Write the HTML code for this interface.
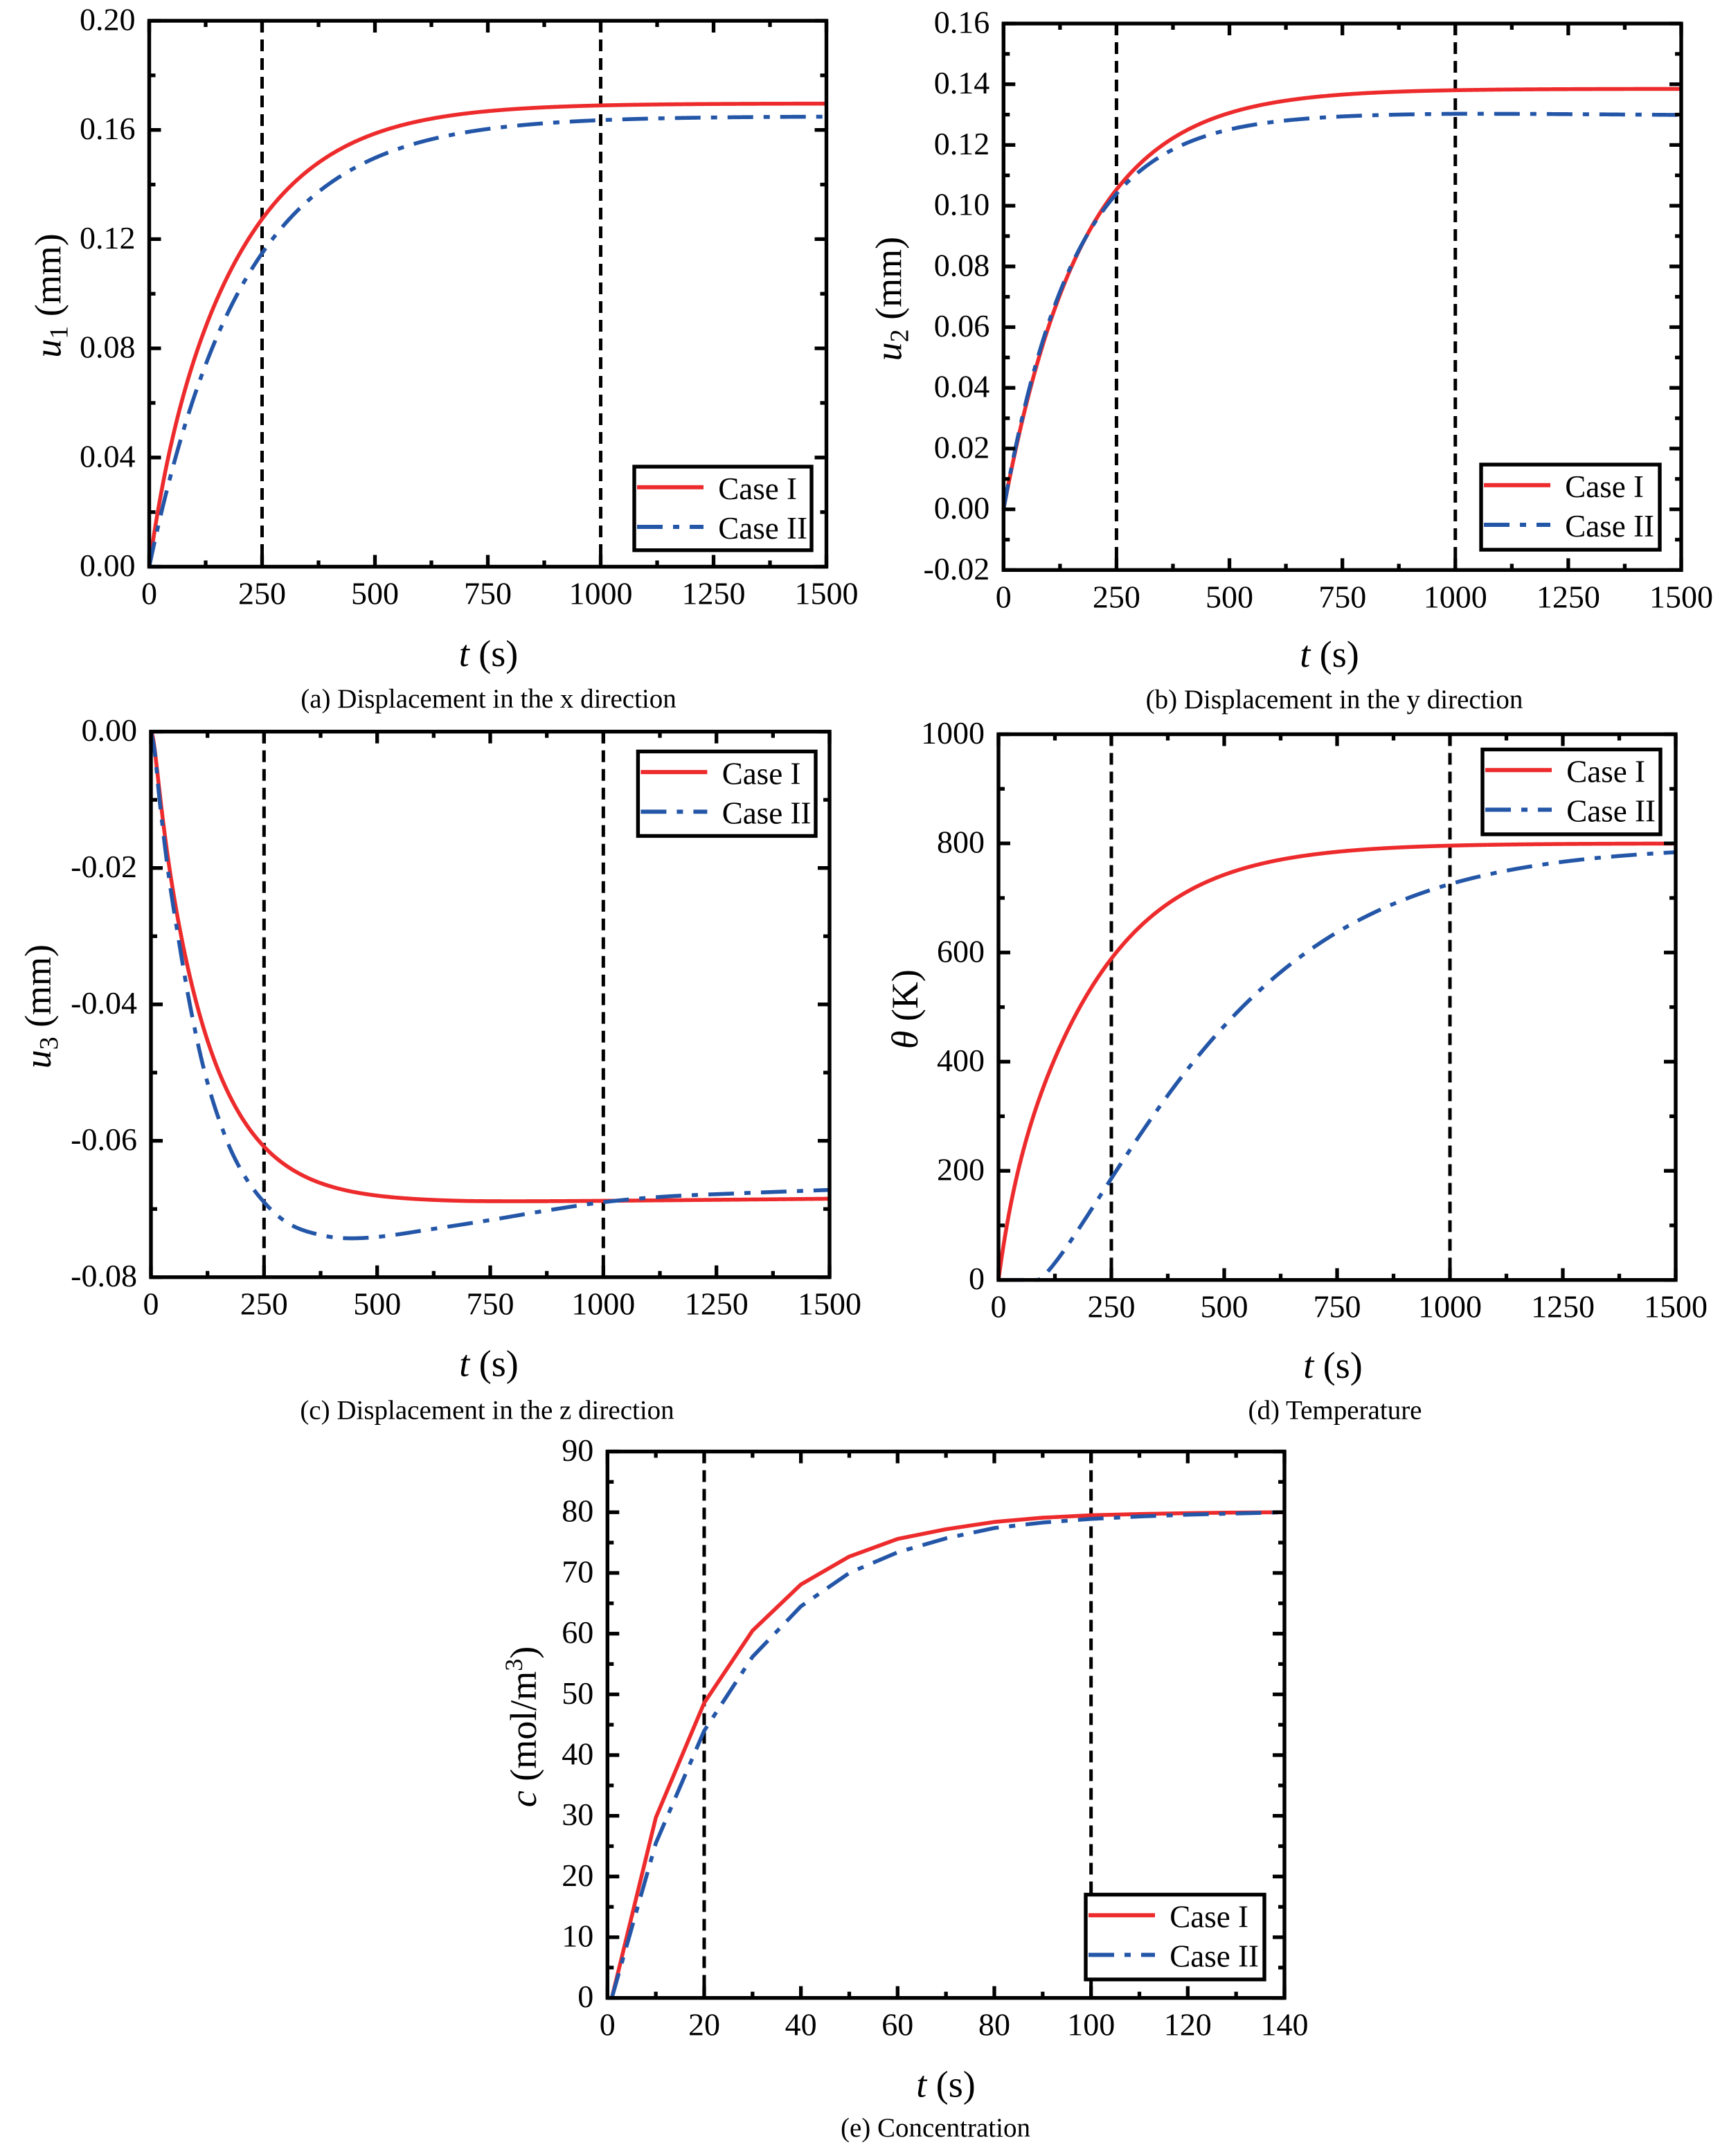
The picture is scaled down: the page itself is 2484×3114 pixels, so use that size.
<!DOCTYPE html>
<html>
<head>
<meta charset="utf-8">
<style>
html,body{margin:0;padding:0;background:#fff;}
svg{display:block;}
text{font-family:"Liberation Serif","Times New Roman",serif;fill:#000;}
</style>
</head>
<body>
<svg id="svg" xmlns="http://www.w3.org/2000/svg" width="2484" height="3114" viewBox="0 0 2484 3114">
<rect x="0" y="0" width="2484" height="3114" fill="#fff"/>
<g id="plots"></g>

<!-- ================= Panel (a) ================= -->
<g font-size="46" text-anchor="end">
<text x="195.5" y="832">0.00</text>
<text x="195.5" y="674.3">0.04</text>
<text x="195.5" y="516.6">0.08</text>
<text x="195.5" y="358.9">0.12</text>
<text x="195.5" y="201.2">0.16</text>
<text x="195.5" y="43.5">0.20</text>
</g>
<g font-size="46" text-anchor="middle">
<text x="215.5" y="872.5">0</text>
<text x="378.5" y="872.5">250</text>
<text x="541.5" y="872.5">500</text>
<text x="704.5" y="872.5">750</text>
<text x="867.5" y="872.5">1000</text>
<text x="1030.5" y="872.5">1250</text>
<text x="1193.5" y="872.5">1500</text>
</g>
<text x="705.5" y="962" text-anchor="middle" font-size="54"><tspan font-style="italic">t</tspan> (s)</text>
<text transform="translate(87.5,427) rotate(-90)" text-anchor="middle" font-size="54"><tspan font-style="italic">u</tspan><tspan font-size="38" dy="10">1</tspan><tspan dy="-10"> (mm)</tspan></text>
<text x="705.5" y="1022" text-anchor="middle" font-size="39">(a) Displacement in the x direction</text>
<g font-size="45">
<text x="1037.3" y="721">Case I</text>
<text x="1037.3" y="778">Case II</text>
</g>

<!-- ================= Panel (b) ================= -->
<g font-size="46" text-anchor="end">
<text x="1429.3" y="836.8">-0.02</text>
<text x="1429.3" y="749.1">0.00</text>
<text x="1429.3" y="661.4">0.02</text>
<text x="1429.3" y="573.7">0.04</text>
<text x="1429.3" y="486.0">0.06</text>
<text x="1429.3" y="398.3">0.08</text>
<text x="1429.3" y="310.6">0.10</text>
<text x="1429.3" y="222.9">0.12</text>
<text x="1429.3" y="135.2">0.14</text>
<text x="1429.3" y="47.5">0.16</text>
</g>
<g font-size="46" text-anchor="middle">
<text x="1449.3" y="877.3">0</text>
<text x="1612.4" y="877.3">250</text>
<text x="1775.5" y="877.3">500</text>
<text x="1938.7" y="877.3">750</text>
<text x="2101.8" y="877.3">1000</text>
<text x="2264.9" y="877.3">1250</text>
<text x="2428" y="877.3">1500</text>
</g>
<text x="1920" y="963" text-anchor="middle" font-size="54"><tspan font-style="italic">t</tspan> (s)</text>
<text transform="translate(1301.5,431.6) rotate(-90)" text-anchor="middle" font-size="54"><tspan font-style="italic">u</tspan><tspan font-size="38" dy="10">2</tspan><tspan dy="-10"> (mm)</tspan></text>
<text x="1927" y="1023" text-anchor="middle" font-size="39">(b) Displacement in the y direction</text>
<g font-size="45">
<text x="2260.3" y="718">Case I</text>
<text x="2260.3" y="775">Case II</text>
</g>

<!-- ================= Panel (c) ================= -->
<g font-size="46" text-anchor="end">
<text x="198" y="1070.2">0.00</text>
<text x="198" y="1267.2">-0.02</text>
<text x="198" y="1464.2">-0.04</text>
<text x="198" y="1661.2">-0.06</text>
<text x="198" y="1858.2">-0.08</text>
</g>
<g font-size="46" text-anchor="middle">
<text x="218" y="1898.7">0</text>
<text x="381.3" y="1898.7">250</text>
<text x="544.7" y="1898.7">500</text>
<text x="708" y="1898.7">750</text>
<text x="871.3" y="1898.7">1000</text>
<text x="1034.7" y="1898.7">1250</text>
<text x="1198" y="1898.7">1500</text>
</g>
<text x="706" y="1987.5" text-anchor="middle" font-size="54"><tspan font-style="italic">t</tspan> (s)</text>
<text transform="translate(73,1453.7) rotate(-90)" text-anchor="middle" font-size="54"><tspan font-style="italic">u</tspan><tspan font-size="38" dy="10">3</tspan><tspan dy="-10"> (mm)</tspan></text>
<text x="703.5" y="2049.3" text-anchor="middle" font-size="39">(c) Displacement in the z direction</text>
<g font-size="45">
<text x="1042.7" y="1132.4">Case I</text>
<text x="1042.7" y="1189.4">Case II</text>
</g>

<!-- ================= Panel (d) ================= -->
<g font-size="46" text-anchor="end">
<text x="1422" y="1862.2">0</text>
<text x="1422" y="1704.6">200</text>
<text x="1422" y="1546.9">400</text>
<text x="1422" y="1389.3">600</text>
<text x="1422" y="1231.6">800</text>
<text x="1422" y="1074">1000</text>
</g>
<g font-size="46" text-anchor="middle">
<text x="1442" y="1902.7">0</text>
<text x="1605" y="1902.7">250</text>
<text x="1768" y="1902.7">500</text>
<text x="1931" y="1902.7">750</text>
<text x="2094" y="1902.7">1000</text>
<text x="2257" y="1902.7">1250</text>
<text x="2420" y="1902.7">1500</text>
</g>
<text x="1925" y="1990" text-anchor="middle" font-size="54"><tspan font-style="italic">t</tspan> (s)</text>
<text transform="translate(1325,1457.6) rotate(-90)" text-anchor="middle" font-size="54"><tspan font-style="italic">θ</tspan> (K)</text>
<text x="1928" y="2049.3" text-anchor="middle" font-size="39">(d) Temperature</text>
<g font-size="45">
<text x="2262.3" y="1129.5">Case I</text>
<text x="2262.3" y="1186.5">Case II</text>
</g>

<!-- ================= Panel (e) ================= -->
<g font-size="46" text-anchor="end">
<text x="857.3" y="2899.2">0</text>
<text x="857.3" y="2811.5">10</text>
<text x="857.3" y="2723.8">20</text>
<text x="857.3" y="2636.1">30</text>
<text x="857.3" y="2548.4">40</text>
<text x="857.3" y="2460.8">50</text>
<text x="857.3" y="2373.1">60</text>
<text x="857.3" y="2285.4">70</text>
<text x="857.3" y="2197.7">80</text>
<text x="857.3" y="2110">90</text>
</g>
<g font-size="46" text-anchor="middle">
<text x="877.3" y="2939.7">0</text>
<text x="1017.0" y="2939.7">20</text>
<text x="1156.6" y="2939.7">40</text>
<text x="1296.3" y="2939.7">60</text>
<text x="1436.0" y="2939.7">80</text>
<text x="1575.7" y="2939.7">100</text>
<text x="1715.3" y="2939.7">120</text>
<text x="1855" y="2939.7">140</text>
</g>
<text x="1366" y="3028.5" text-anchor="middle" font-size="54"><tspan font-style="italic">t</tspan> (s)</text>
<text transform="translate(774,2494) rotate(-90)" text-anchor="middle" font-size="54"><tspan font-style="italic">c</tspan> (mol/m<tspan font-size="36" dy="-20">3</tspan><tspan dy="20">)</tspan></text>
<text x="1351" y="3086" text-anchor="middle" font-size="39">(e) Concentration</text>
<g font-size="45">
<text x="1689.3" y="2783.5">Case I</text>
<text x="1689.3" y="2840.5">Case II</text>
</g>
</svg>

<script>
(function(){
var NS='http://www.w3.org/2000/svg';
var g=document.getElementById('plots');
function el(tag,attrs){var e=document.createElementNS(NS,tag);for(var k in attrs)e.setAttribute(k,attrs[k]);g.appendChild(e);return e;}
var RED='#ED2B2C', BLUE='#2456A8';
var E=Math.exp;

function mono(pts){
  var n=pts.length,xs=[],ys=[],d=[],m=[];
  for(var i=0;i<n;i++){xs.push(pts[i][0]);ys.push(pts[i][1]);}
  for(i=0;i<n-1;i++)d.push((ys[i+1]-ys[i])/(xs[i+1]-xs[i]));
  m[0]=d[0];m[n-1]=d[n-2];
  for(i=1;i<n-1;i++){if(d[i-1]*d[i]<=0)m[i]=0;else m[i]=(d[i-1]+d[i])/2;}
  for(i=0;i<n-1;i++){
    if(d[i]===0){m[i]=0;m[i+1]=0;continue;}
    var a=m[i]/d[i],b=m[i+1]/d[i],s=a*a+b*b;
    if(s>9){var t=3/Math.sqrt(s);m[i]=t*a*d[i];m[i+1]=t*b*d[i];}
  }
  return function(x){
    var i=0;while(i<n-2&&x>xs[i+1])i++;
    var h=xs[i+1]-xs[i],t=(x-xs[i])/h,t2=t*t,t3=t2*t;
    return (2*t3-3*t2+1)*ys[i]+(t3-2*t2+t)*h*m[i]+(-2*t3+3*t2)*ys[i+1]+(t3-t2)*h*m[i+1];
  };
}

function panel(P){
  var sx=function(t){return P.L+(t-P.x0)/(P.x1-P.x0)*(P.R-P.L);};
  var sy=function(v){return P.B-(v-P.y0)/(P.y1-P.y0)*(P.B-P.T);};
  P.vl.forEach(function(t){
    el('line',{x1:sx(t),y1:P.T,x2:sx(t),y2:P.B,stroke:'#000','stroke-width':5,'stroke-dasharray':'17 10'});
  });
  function curve(data,color,dash){
    var pts=[];
    if(data.poly){
      data.pts.forEach(function(p){pts.push(sx(p[0]).toFixed(2)+','+sy(p[1]).toFixed(2));});
    } else {
      var f=data.fn||mono(data.pts);
      var a=data.start||P.x0, b=P.x1, N=800;
      for(var k=0;k<=N;k++){var t=a+(b-a)*k/N;pts.push(sx(t).toFixed(2)+','+sy(f(t)).toFixed(2));}
    }
    var at={d:'M'+pts.join('L'),fill:'none',stroke:color,'stroke-width':5.6,'stroke-linejoin':'round'};
    if(dash)at['stroke-dasharray']=dash;
    el('path',at);
  }
  curve(P.red,RED,null);
  curve(P.blue,BLUE,'37 15 9 15');
  var l=P.leg;
  el('rect',{x:l[0],y:l[1],width:l[2]-l[0],height:l[3]-l[1],fill:'#fff',stroke:'#000','stroke-width':5.4});
  el('line',{x1:l[0]+4,y1:l[1]+29.7,x2:l[0]+100,y2:l[1]+29.7,stroke:RED,'stroke-width':6});
  el('line',{x1:l[0]+4,y1:l[1]+87,x2:l[0]+100,y2:l[1]+87,stroke:BLUE,'stroke-width':6,'stroke-dasharray':'37 15 9 15'});
  el('rect',{x:P.L,y:P.T,width:P.R-P.L,height:P.B-P.T,fill:'none',stroke:'#000','stroke-width':5.4});
  var tw=5.3, MJ=17, MN=9;
  var nx=Math.round((P.x1-P.x0)/P.xm);
  for(var k=0;k<=nx;k++){
    var x=sx(P.x0+k*P.xm), len=(k%2===0)?MJ:MN;
    el('line',{x1:x,y1:P.B,x2:x,y2:P.B-len,stroke:'#000','stroke-width':tw});
    el('line',{x1:x,y1:P.T,x2:x,y2:P.T+len,stroke:'#000','stroke-width':tw});
  }
  var ny=Math.round((P.y1-P.y0)/P.ym);
  for(k=0;k<=ny;k++){
    var y=sy(P.y0+k*P.ym), len2=(k%2===0)?MJ:MN;
    el('line',{x1:P.L,y1:y,x2:P.L+len2,y2:y,stroke:'#000','stroke-width':tw});
    el('line',{x1:P.R,y1:y,x2:P.R-len2,y2:y,stroke:'#000','stroke-width':tw});
  }
}

// (a)
panel({L:215.5,R:1193.5,T:30,B:818.5,x0:0,x1:1500,y0:0,y1:0.20,xm:125,ym:0.02,vl:[250,1000],
  leg:[916,674,1172,794.7],
  red:{fn:function(t){return 0.1697*(1-E(-t/183))+0.000246*t*E(-t/60);}},
  blue:{fn:function(t){return 0.165*(1-E(-t/210));}}
});
// (b)
panel({L:1449.3,R:2428,T:34,B:823.3,x0:0,x1:1500,y0:-0.02,y1:0.16,xm:125,ym:0.01,vl:[250,1000],
  leg:[2139,671,2397,794],
  red:{fn:function(t){return 0.1385*(1-E(-t/175));}},
  blue:{fn:function(t){return 0.1305*(1-E(-t/157))-0.0006*Math.max(0,(t-1000)/500);}}
});
// (c)
panel({L:218,R:1198,T:1056.7,B:1844.7,x0:0,x1:1500,y0:-0.08,y1:0,xm:125,ym:0.01,vl:[250,1000],
  leg:[921.4,1085.4,1178,1207.4],
  red:{fn:function(t){return -0.0690*(1-E(-t/117))*(1-E(-t/10))+0.0005*Math.max(0,(t-700)/800);}},
  blue:{pts:[[0,0],[8,-0.0028],[19,-0.0100],[38,-0.0205],[60,-0.0300],[86,-0.0400],[119,-0.0500],[165,-0.0595],[201,-0.0645],[250,-0.0690],[301,-0.0720],[374,-0.0738],[442,-0.0743],[500,-0.0741],[626,-0.0729],[752,-0.0716],[877,-0.0702],[1000,-0.0690],[1132,-0.0682],[1300,-0.0677],[1500,-0.0672]]}
});
// (d)
panel({L:1442,R:2420,T:1060.5,B:1848.7,x0:0,x1:1500,y0:0,y1:1000,xm:125,ym:100,vl:[250,1000],
  leg:[2141,1082.5,2398,1205],
  red:{fn:function(t){return 800*(1-E(-t/190))+2*t*E(-t/50);}},
  blue:{fn:function(t){var s=t-88;if(s<=0)return 0;return 795*(1-E(-Math.pow(s/455,1.28)));}}
});
// (e)
panel({L:877.3,R:1855,T:2096.5,B:2885.7,x0:0,x1:140,y0:0,y1:90,xm:10,ym:5,vl:[20,100],
  leg:[1568,2736.5,1826,2859],
  red:{poly:true,pts:[[0.9,0],[10,29.7],[20,48.6],[30,60.5],[40,68.1],[50,72.7],[60,75.6],[70,77.2],[80,78.4],[90,79.1],[100,79.5],[110,79.7],[120,79.85],[130,79.95],[140,80.0]]},
  blue:{poly:true,pts:[[0.9,0],[10,25.5],[20,44.0],[30,56.2],[40,64.5],[50,70.0],[60,73.4],[70,75.7],[80,77.4],[90,78.3],[100,78.9],[110,79.3],[120,79.6],[130,79.8],[140,80.0]]}
});
})();
</script>
</body>
</html>
